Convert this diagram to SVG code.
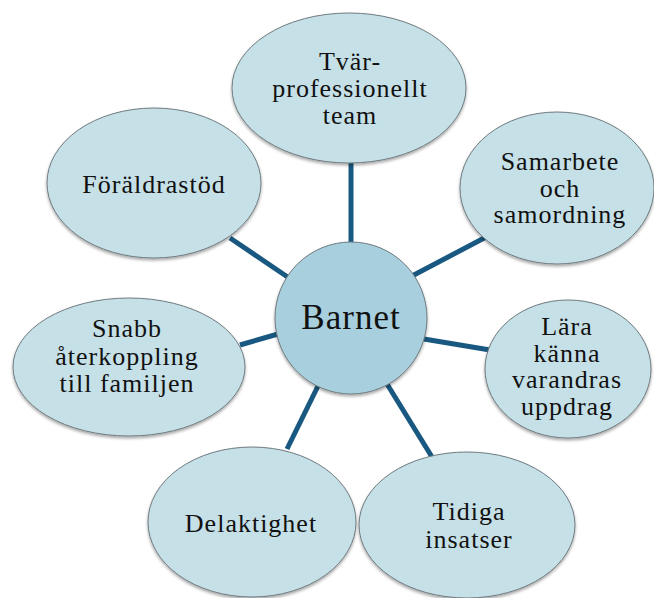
<svg xmlns="http://www.w3.org/2000/svg" width="654" height="598" viewBox="0 0 654 598">
<defs>
<filter id="sh" x="-10%" y="-10%" width="120%" height="125%">
<feDropShadow dx="0" dy="2" stdDeviation="1.5" flood-color="#000" flood-opacity="0.35"/>
</filter>
</defs>
<style>
.n{fill:#c6e0e7;stroke:#6f7b80;stroke-width:1;filter:url(#sh)}
.c{fill:#a8cfdd;stroke:#6f7b80;stroke-width:1;filter:url(#sh)}
.t{font-family:"Liberation Serif","DejaVu Serif",serif;font-size:26px;letter-spacing:1px;fill:#111;text-anchor:middle}
.b{font-size:35px}
.e{stroke:#195880;stroke-width:5;fill:none}
</style>
<rect width="654" height="598" fill="#fff"/>
<g id="connectors">
<line class="e" x1="351" y1="160" x2="351" y2="245"/>
<line class="e" x1="412" y1="276" x2="488" y2="236"/>
<line class="e" x1="424" y1="339" x2="490" y2="350"/>
<line class="e" x1="387" y1="384" x2="432" y2="457"/>
<line class="e" x1="318" y1="386" x2="287" y2="449"/>
<line class="e" x1="278" y1="334" x2="240" y2="345"/>
<line class="e" x1="292" y1="280" x2="230" y2="238"/>
</g>
<g id="n-team">
<ellipse class="n" cx="349" cy="88" rx="117" ry="75"/>
<text class="t" x="350" y="70">Tvär-</text>
<text class="t" x="350" y="97">professionellt</text>
<text class="t" x="350" y="124">team</text>
</g>
<g id="n-samarbete">
<ellipse class="n" cx="557" cy="188" rx="97" ry="76"/>
<text class="t" x="560" y="170">Samarbete</text>
<text class="t" x="560" y="197">och</text>
<text class="t" x="560" y="223">samordning</text>
</g>
<g id="n-lara">
<ellipse class="n" cx="568" cy="369" rx="83" ry="69"/>
<text class="t" x="567" y="335">Lära</text>
<text class="t" x="567" y="362">känna</text>
<text class="t" x="567" y="388">varandras</text>
<text class="t" x="567" y="415">uppdrag</text>
</g>
<g id="n-tidiga">
<ellipse class="n" cx="467" cy="525" rx="108" ry="73"/>
<text class="t" x="469" y="520">Tidiga</text>
<text class="t" x="469" y="548">insatser</text>
</g>
<g id="n-delaktighet">
<ellipse class="n" cx="252" cy="522" rx="104" ry="75"/>
<text class="t" x="251" y="532">Delaktighet</text>
</g>
<g id="n-snabb">
<ellipse class="n" cx="129" cy="367" rx="116" ry="69"/>
<text class="t" x="127" y="337">Snabb</text>
<text class="t" x="127" y="365">återkoppling</text>
<text class="t" x="127" y="392">till familjen</text>
</g>
<g id="n-foralder">
<ellipse class="n" cx="154" cy="183" rx="107" ry="75"/>
<text class="t" x="154" y="193">Föräldrastöd</text>
</g>
<g id="n-barnet">
<circle class="c" cx="351" cy="318" r="76"/>
<text class="t b" x="351" y="329">Barnet</text>
</g>
</svg>
